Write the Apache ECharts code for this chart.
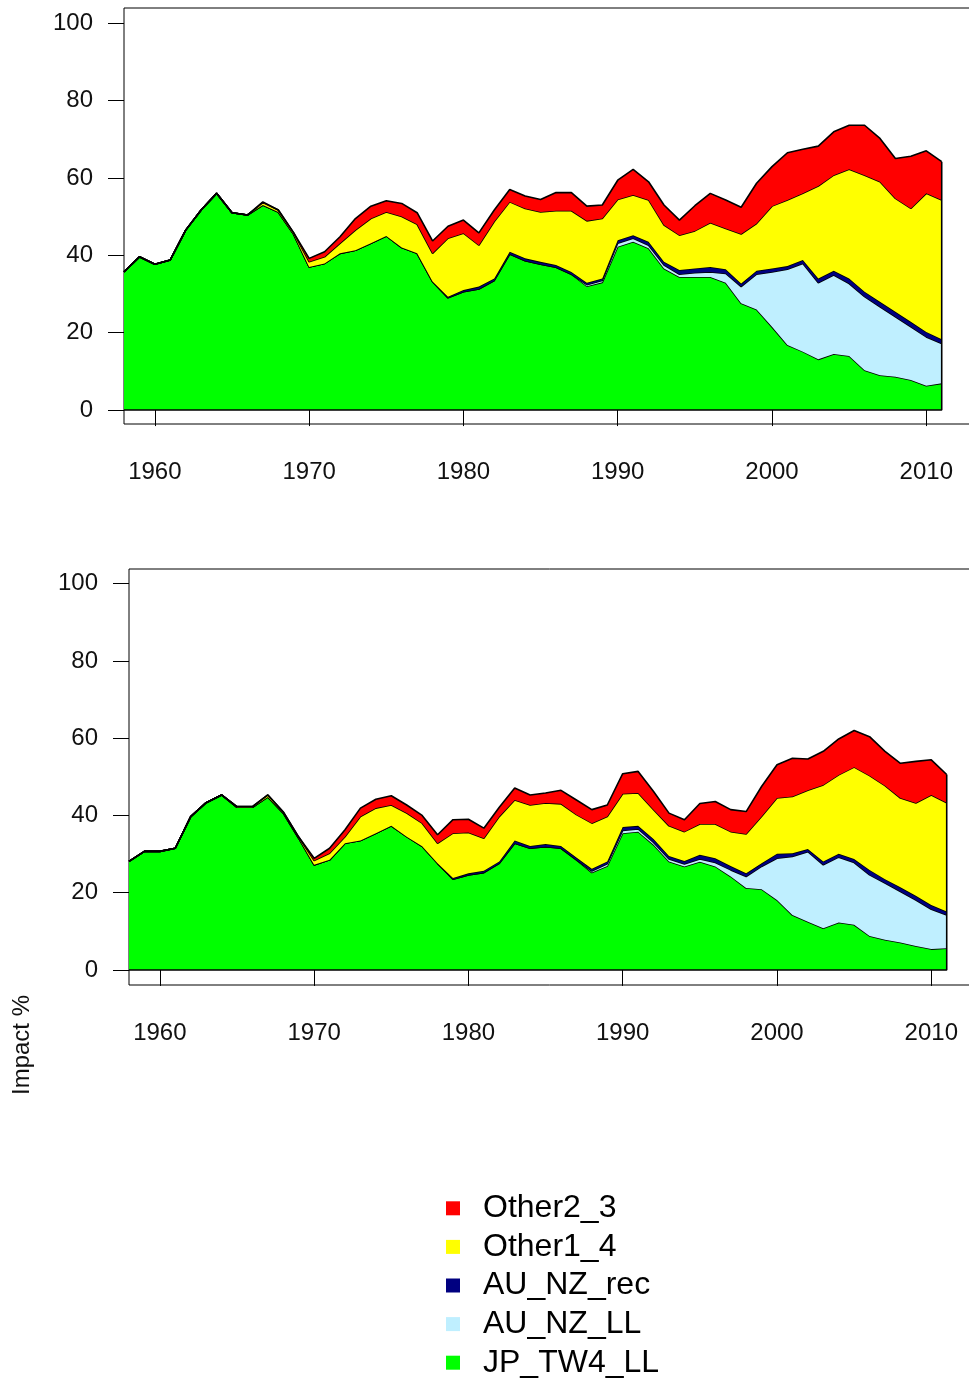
<!DOCTYPE html>
<html>
<head>
<meta charset="utf-8">
<script src="https://cdn.jsdelivr.net/npm/echarts@6/dist/echarts.min.js"></script>
<style>
  html, body { margin: 0; padding: 0; background: #fff; }
  #chart { width: 969px; height: 1382px; }
</style>
</head>
<body>
<div id="chart"></div>
<script>
// Years shown on the x axis (the axis runs a little past the last data year)
const axisYears = [];
for (let y = 1958; y <= 2014; y++) axisYears.push(String(y));
const years = axisYears.slice(0, 54); // 1958 .. 2011
const yTicks = [0, 20, 40, 60, 80, 100];

// ---- Upper panel (impact %, stacked) ----
const topJP_TW4_LL = [35.7, 39.6, 37.7, 38.8, 46.5, 51.7, 56.0, 51.0, 50.4, 53.0,
  51.2, 45.4, 37.0, 37.9, 40.5, 41.3, 43.1, 45.0, 42.0, 40.5,
  33.2, 29.0, 30.6, 31.3, 33.5, 40.3, 38.6, 37.7, 36.9, 35.1,
  32.0, 33.0, 42.2, 43.5, 41.8, 36.6, 34.4, 34.4, 34.4, 32.9,
  27.6, 26.0, 21.5, 16.8, 15.1, 13.1, 14.5, 14.0, 10.3, 9.0,
  8.6, 7.8, 6.3, 6.9];
const topAU_NZ_LL = [0, 0, 0, 0, 0, 0, 0, 0, 0, 0,
  0, 0, 0, 0, 0, 0, 0, 0, 0, 0,
  0, 0, 0, 0, 0, 0, 0, 0, 0, 0,
  0.4, 0.5, 0.9, 0.9, 0.8, 0.9, 0.7, 1.1, 1.3, 2.4,
  4.3, 9.1, 14.2, 19.6, 22.8, 19.8, 20.4, 18.7, 19.0, 17.7,
  15.5, 13.7, 12.6, 10.3];
const topAU_NZ_rec = [0, 0, 0, 0, 0, 0, 0, 0, 0, 0,
  0, 0, 0, 0, 0, 0, 0, 0, 0, 0,
  0, 0.3, 0.4, 0.6, 0.5, 0.6, 0.6, 0.6, 0.6, 0.6,
  0.5, 0.5, 0.8, 0.8, 0.9, 0.8, 1.1, 1.1, 1.3, 1.1,
  0.8, 0.9, 0.9, 0.8, 0.9, 1.1, 1.1, 1.3, 1.3, 1.3,
  1.3, 1.3, 1.3, 1.1];
const topOther1_4 = [0, 0, 0, 0, 0, 0, 0, 0, 0, 0.6,
  0.5, 0.4, 1.3, 1.7, 2.6, 5.2, 6.4, 6.2, 8.0, 7.5,
  7.3, 15.1, 14.7, 10.7, 14.7, 12.9, 12.9, 12.9, 14.0, 15.8,
  16.0, 15.5, 10.5, 10.4, 10.8, 9.5, 9.0, 9.7, 11.4, 10.5,
  12.8, 12.2, 16.1, 17.1, 17.2, 23.9, 24.7, 28.2, 30.1, 31.0,
  29.3, 29.3, 35.8, 36.0];
const topOther2_3 = [0, 0, 0, 0, 0, 0, 0, 0, 0, 0.2,
  0, 0, 0.9, 1.3, 1.7, 3.0, 3.2, 2.9, 3.4, 3.0,
  3.2, 3.1, 3.4, 3.2, 3.0, 3.2, 3.2, 3.2, 4.7, 4.7,
  3.8, 3.5, 5.0, 6.6, 4.7, 5.2, 3.9, 6.5, 7.6, 7.4,
  6.9, 10.4, 10.2, 12.2, 11.4, 10.3, 11.2, 11.4, 12.9, 11.2,
  10.3, 13.5, 11.0, 9.9];

// ---- Lower panel (impact %, stacked) ----
const botJP_TW4_LL = [28.1, 30.7, 30.7, 31.5, 39.7, 43.3, 45.3, 42.1, 42.1, 44.8,
  40.6, 34.1, 27.2, 28.5, 32.8, 33.5, 35.4, 37.3, 34.5, 32.0,
  27.6, 23.5, 24.6, 25.2, 27.6, 32.8, 31.5, 31.9, 31.5, 28.5,
  25.2, 26.9, 35.4, 35.8, 32.4, 28.1, 26.8, 28.0, 26.8, 24.2,
  21.2, 20.9, 18.1, 14.2, 12.5, 10.8, 12.3, 11.7, 8.8, 7.8,
  7.1, 6.2, 5.4, 5.6];
const botAU_NZ_LL = [0, 0, 0, 0, 0, 0, 0, 0, 0, 0,
  0, 0, 0, 0, 0, 0, 0, 0, 0, 0,
  0, 0, 0, 0, 0, 0, 0, 0, 0, 0,
  0.4, 0.6, 0.7, 0.7, 0.6, 0.6, 0.6, 0.7, 1.0, 1.7,
  3.0, 5.9, 10.8, 15.2, 18.1, 16.4, 16.9, 16.1, 15.8, 14.7,
  13.2, 11.9, 10.3, 8.6];
const botAU_NZ_rec = [0, 0, 0, 0, 0, 0, 0, 0, 0, 0,
  0, 0, 0, 0, 0, 0, 0, 0, 0, 0,
  0, 0.3, 0.4, 0.5, 0.5, 0.7, 0.6, 0.7, 0.6, 0.6,
  0.6, 0.6, 0.9, 0.8, 0.9, 0.8, 0.8, 1.1, 1.1, 1.0,
  0.8, 0.8, 1.2, 0.8, 0.7, 0.9, 0.9, 0.9, 1.3, 1.0,
  1.1, 1.1, 1.1, 0.9];
const botOther1_4 = [0, 0, 0, 0, 0, 0, 0, 0.2, 0.2, 0.5,
  0.3, 0.3, 1.1, 1.7, 1.7, 6.2, 6.5, 5.4, 6.1, 6.0,
  5.2, 11.6, 10.6, 8.4, 11.6, 10.5, 10.6, 10.6, 10.9, 11.1,
  11.8, 11.6, 8.6, 8.5, 7.6, 7.8, 7.6, 8.0, 8.9, 8.9,
  10.2, 12.1, 14.4, 14.7, 15.2, 19.8, 20.4, 23.8, 24.4, 24.2,
  23.1, 24.0, 28.5, 28.2];
const botOther2_3 = [0, 0, 0, 0, 0, 0, 0, 0, 0, 0,
  0, 0, 0.6, 1.3, 1.8, 2.2, 2.3, 2.4, 2.1, 2.0,
  2.2, 3.5, 3.4, 2.6, 2.4, 3.1, 2.6, 2.6, 3.5, 3.8,
  3.5, 3.0, 5.2, 5.6, 4.7, 3.3, 3.1, 5.3, 5.8, 5.7,
  5.8, 7.8, 8.6, 9.9, 8.1, 8.7, 9.3, 9.5, 10.1, 8.9,
  9.0, 10.8, 9.1, 7.3];

const seriesNames = ['JP_TW4_LL', 'AU_NZ_LL', 'AU_NZ_rec', 'Other1_4', 'Other2_3'];
const seriesColors = ['#00ff00', '#bfefff', '#000080', '#ffff00', '#ff0000'];
const legendOrder = ['Other2_3', 'Other1_4', 'AU_NZ_rec', 'AU_NZ_LL', 'JP_TW4_LL'];

const FONT = "'Liberation Sans', Arial, sans-serif";

function stackedSeries(arrays, panel) {
  return arrays.map((vals, i) => ({
    name: seriesNames[i],
    type: 'line',
    xAxisIndex: panel,
    yAxisIndex: panel,
    stack: 'panel' + panel,
    data: vals,
    symbol: 'none',
    smooth: false,
    itemStyle: { color: seriesColors[i] },
    lineStyle: { color: '#000', width: 1.6 },
    areaStyle: { color: seriesColors[i], opacity: 1 },
    z: 2 + i
  }));
}

// closing edge of the stacked polygons: baseline at 0 and the vertical end at the last year
function outline(arrays, panel) {
  const last = years.length - 1;
  const total = arrays.reduce((s, a) => s + a[last], 0);
  return {
    type: 'line',
    xAxisIndex: panel,
    yAxisIndex: panel,
    data: [[years[0], 0], [years[last], 0], [years[last], total]],
    symbol: 'none',
    lineStyle: { color: '#000', width: 1.6 },
    z: 10,
    silent: true
  };
}

const topArrays = [topJP_TW4_LL, topAU_NZ_LL, topAU_NZ_rec, topOther1_4, topOther2_3];
const botArrays = [botJP_TW4_LL, botAU_NZ_LL, botAU_NZ_rec, botOther1_4, botOther2_3];

const isDecade = (idx, val) => Number(val) % 10 === 0;

function xAxisFor(panel) {
  return {
    type: 'category',
    gridIndex: panel,
    data: axisYears,
    boundaryGap: false,
    axisLine: { show: false },
    axisTick: { show: true, interval: isDecade, length: 16, lineStyle: { color: '#000', width: 1 } },
    axisLabel: { interval: isDecade, margin: 36, fontSize: 24, fontFamily: FONT, color: '#111' },
    splitLine: { show: false }
  };
}
function yAxisFor(panel, lo, hi) {
  return {
    type: 'value',
    gridIndex: panel,
    min: lo,
    max: hi,
    axisLine: { show: false },
    axisTick: { show: true, customValues: yTicks, length: 16, lineStyle: { color: '#000', width: 1 } },
    axisLabel: { customValues: yTicks, margin: 31, fontSize: 24, fontFamily: FONT, color: '#111' },
    splitLine: { show: false }
  };
}

const chart = echarts.init(document.getElementById('chart'), null, { renderer: 'canvas' });
chart.setOption({
  animation: false,
  backgroundColor: '#fff',
  grid: [
    { left: 124, top: 8, width: 864, height: 416, outerBoundsMode: 'none', containLabel: false,
      show: true, borderColor: '#000', borderWidth: 1, backgroundColor: 'transparent' },
    { left: 129, top: 569, width: 864, height: 416, outerBoundsMode: 'none', containLabel: false,
      show: true, borderColor: '#000', borderWidth: 1, backgroundColor: 'transparent' }
  ],
  xAxis: [xAxisFor(0), xAxisFor(1)],
  yAxis: [yAxisFor(0, -3.6, 103.9), yAxisFor(1, -3.9, 103.8)],
  legend: {
    data: legendOrder,
    orient: 'vertical',
    left: 446,
    top: 1189,
    padding: 0,
    icon: 'rect',
    itemWidth: 14,
    itemHeight: 14,
    itemGap: 0,
    selectedMode: false,
    itemStyle: { borderWidth: 0 },
    textStyle: { fontSize: 32, fontFamily: FONT, color: '#000', lineHeight: 38.6, padding: [0, 0, 0, 18] }
  },
  graphic: [{
    type: 'text',
    x: 22,
    y: 1045,
    rotation: Math.PI / 2,
    style: { text: 'Impact %', fontSize: 24, fontFamily: FONT, fill: '#111', align: 'center', verticalAlign: 'middle' }
  }],
  series: [
    ...stackedSeries(topArrays, 0), outline(topArrays, 0),
    ...stackedSeries(botArrays, 1), outline(botArrays, 1)
  ]
});
</script>
</body>
</html>
